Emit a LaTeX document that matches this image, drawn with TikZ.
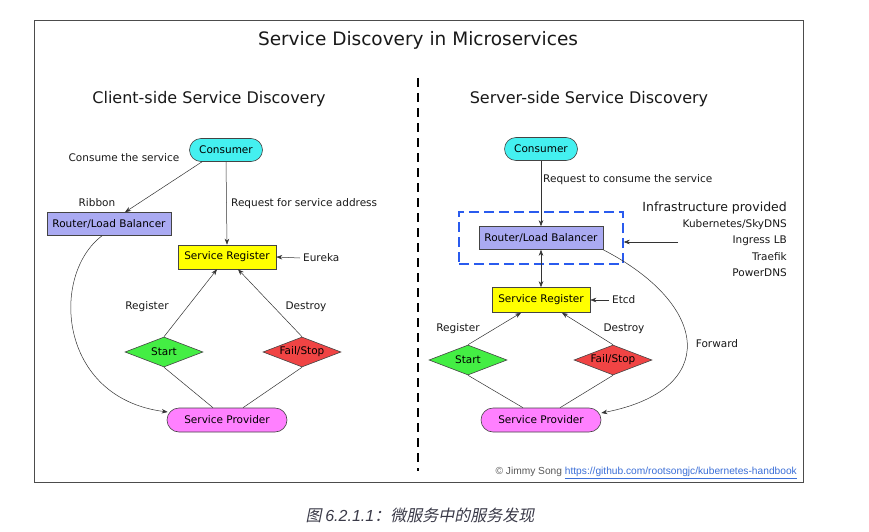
\documentclass[tikz,border=0pt]{standalone}
\usepackage{fontspec}
\setmainfont{DejaVu Sans}
\newfontfamily\arialf{Liberation Sans}
\newfontfamily\cjk[FakeSlant=0.2]{Noto Sans CJK SC}
\newfontfamily\arialit{Liberation Sans Italic}
\usetikzlibrary{shapes.geometric,arrows.meta,calc}
\definecolor{cons}{HTML}{44F0F0}
\definecolor{lav}{HTML}{AAAAF2}
\definecolor{yel}{HTML}{FFFF00}
\definecolor{grn}{HTML}{44EE44}
\definecolor{rd}{HTML}{F04444}
\definecolor{pnk}{HTML}{FF80FF}
\definecolor{edge}{HTML}{444444}
\definecolor{dblue}{HTML}{2A5BEE}
\definecolor{link}{HTML}{3B6FD8}
\definecolor{capc}{HTML}{3A3A48}
\begin{document}
\begin{tikzpicture}[x=1pt,y=-1pt,
  lbl/.style={font=\fontsize{10.5}{12}\selectfont, text=black!90, inner sep=0pt},
  pill/.style={draw=edge, line width=0.6pt, rounded corners=11.5pt, minimum height=23pt, inner sep=0pt, font=\fontsize{10.5}{12}\selectfont},
  boxn/.style={draw=edge, line width=0.6pt, minimum height=23pt, inner sep=0pt, font=\fontsize{10.5}{12}\selectfont},
  dia/.style={draw=edge, line width=0.6pt, shape=diamond, aspect=2.6, minimum width=78pt, minimum height=30pt, inner sep=0pt, font=\fontsize{10.5}{12}\selectfont},
  arr/.style={draw=black!80, line width=0.5pt, -{Stealth[length=6pt,width=4.5pt]}},
  ln/.style={draw=black!80, line width=0.5pt}
]
\useasboundingbox (0,0) rectangle (869,532);
\fill[white] (0,0) rectangle (869,532);
\draw[black!70, line width=0.8pt] (34,20) rectangle (803,482);

% titles
\node[font=\fontsize{18.5}{22}\selectfont, text=black!90] (title) at (418,40) {Service Discovery in Microservices};
\node[font=\fontsize{16}{19}\selectfont, text=black!90] (ltitle) at (209,99) {Client-side Service Discovery};
\node[font=\fontsize{16}{19}\selectfont, text=black!90] (rtitle) at (589,99) {Server-side Service Discovery};

% divider
\coordinate (dtop) at (418,78);
\coordinate (dbot) at (418,471);
\draw[black, line width=2pt, dash pattern=on 9pt off 6pt] (dtop) -- (dbot);

% ===== left =====
\node[pill, fill=cons, minimum width=73pt] (lcons) at (226,150) {Consumer};
\node[boxn, fill=lav, minimum width=124pt] (lrlb) at (109,224) {Router/Load Balancer};
\node[boxn, fill=yel, minimum width=98pt, minimum height=24pt] (lreg) at (227,257) {Service Register};
\node[dia, fill=grn] (lstart) at (164,352) {Start};
\node[dia, fill=rd] (lfail) at (302,352) {Fail/Stop};
\node[pill, fill=pnk, minimum width=120pt, minimum height=24pt, rounded corners=12pt] (lprov) at (227,420) {Service Provider};

\node[lbl] (lconsume) at (124,158) {Consume the service};
\node[lbl] (lribbon) at (97,203) {Ribbon};
\node[lbl, anchor=west] (lreq) at (231,204) {Request for service address};
\node[lbl, anchor=west] (leureka) at (303,258) {Eureka};
\node[lbl] (lregt) at (147,307) {Register};
\node[lbl] (ldes) at (306,307) {Destroy};

\draw[arr] ($(lcons.south)+(-24,0)$) -- ($(lrlb.north)+(16,0)$);
\draw[arr] (lcons.south) -- (lreg.north);
\draw[arr] (leureka.west) ++(-3,0) -- (lreg.east);
\draw[arr] (lstart.north) -- ($(lreg.south)+(-10,0)$);
\draw[arr] (lfail.north) -- ($(lreg.south)+(11,0)$);
\draw[ln] (lstart.south) -- ($(lprov.north)+(-14,0)$);
\draw[ln] (lfail.south) -- ($(lprov.north)+(16,0)$);
\draw[arr] ($(lrlb.south)+(-7,0)$) .. controls (50,275) and (58,398) .. ($(lprov.west)+(1,-8)$);

% ===== right =====
\node[pill, fill=cons, minimum width=73pt] (rcons) at (541,149) {Consumer};
\node[boxn, fill=lav, minimum width=124pt] (rrlb) at (541,238) {Router/Load Balancer};
\node[draw=dblue, line width=1.4pt, dash pattern=on 10pt off 5pt, minimum width=164pt, minimum height=52pt, inner sep=0pt] (rdash) at (541,238) {};
\node[boxn, fill=yel, minimum width=98pt, minimum height=25pt] (rreg) at (541,300) {Service Register};
\node[dia, fill=grn] (rstart) at (468,360) {Start};
\node[dia, fill=rd] (rfail) at (613,360) {Fail/Stop};
\node[pill, fill=pnk, minimum width=120pt, minimum height=24pt, rounded corners=12pt] (rprov) at (541,420) {Service Provider};

\node[lbl, anchor=west] (rreq) at (543,180) {Request to consume the service};
\node[lbl, anchor=east, font=\fontsize{12.5}{14}\selectfont] (infra) at (787,208) {Infrastructure provided};
\node[lbl, anchor=east] (k8s) at (787,225) {Kubernetes/SkyDNS};
\node[lbl, anchor=east] (ingress) at (787,241) {Ingress LB};
\node[lbl, anchor=east] (traefik) at (787,257) {Traefik};
\node[lbl, anchor=east] (pdns) at (787,273) {PowerDNS};
\coordinate (infarr) at (678,242);
\node[lbl, anchor=west] (etcd) at (612,300) {Etcd};
\node[lbl] (rregt) at (458,329) {Register};
\node[lbl] (rdes) at (624,329) {Destroy};
\node[lbl] (fwd) at (717,344) {Forward};

\draw[arr] (rcons.south) -- (rrlb.north);
\draw[arr] (infarr) -- (rdash.east |- infarr);
\draw[draw=black!80, line width=0.5pt, {Stealth[length=6pt,width=4.5pt]}-{Stealth[length=6pt,width=4.5pt]}] (rrlb.south) -- (rreg.north);
\draw[arr] (etcd.west) ++(-3,0) -- (rreg.east);
\draw[arr] (rstart.north) -- ($(rreg.south)+(-20,0)$);
\draw[arr] (rfail.north) -- ($(rreg.south)+(21,0)$);
\draw[ln] (rstart.south) -- ($(rprov.north)+(-18,0)$);
\draw[ln] (rfail.south) -- ($(rprov.north)+(19,0)$);
\draw[arr] (rrlb.south east) .. controls (710,305) and (720,390) .. ($(rprov.east)+(0,-7)$);

% copyright
\node[anchor=east, inner sep=0pt, font=\arialf\fontsize{10.2}{12}\selectfont] (copy) at (797,473)
  {\textcolor{black!65}{© Jimmy Song} \textcolor{link}{\underline{https://github.com/rootsongjc/kubernetes-handbook}}};

% caption
\node[inner sep=0pt, text=capc, font=\fontsize{16}{18}\selectfont] (cap) at (420,515)
  {\cjk 图 {\arialit 6.2.1.1}：微服务中的服务发现};
\end{tikzpicture}
\end{document}
